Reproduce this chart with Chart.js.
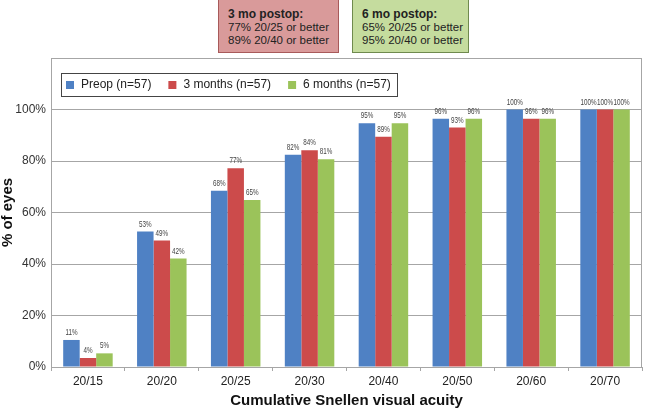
<!DOCTYPE html>
<html>
<head>
<meta charset="utf-8">
<script src="https://cdn.jsdelivr.net/npm/chart.js@4/dist/chart.umd.min.js"></script>
<style>
  html, body { margin: 0; padding: 0; background: #fff; }
  #wrap { position: relative; width: 645px; height: 408px; }
  canvas { position: absolute; left: 0; top: 0; }
  .note { position: absolute; top: -2px; height: 55px; box-sizing: border-box; white-space: nowrap;
          font-family: "Liberation Sans", Arial, sans-serif; font-size: 11.5px; line-height: 13px;
          color: #222; padding: 9px 0 0 9px; }
  .note b { font-weight: bold; font-size: 12px; }
  #n3 { left: 218px; width: 121px; background: #d99a9a; border: 1.5px solid #a85a5a; }
  #n6 { left: 352px; width: 117px; background: #c5dc9e; border: 1.5px solid #6f8a4e; }
</style>
</head>
<body>
<div id="wrap">
  <canvas id="c" width="645" height="408"></canvas>
  <div class="note" id="n3"><b>3 mo postop:</b><br>77% 20/25 or better<br>89% 20/40 or better</div>
  <div class="note" id="n6"><b>6 mo postop:</b><br>65% 20/25 or better<br>95% 20/40 or better</div>
</div>
<script>
const categories = ['20/15', '20/20', '20/25', '20/30', '20/40', '20/50', '20/60', '20/70'];
const seriesNames = ['Preop (n=57)', '3 months (n=57)', '6 months (n=57)'];
const preop   = [10.5, 52.6, 68.4, 82.4, 94.7, 96.4, 100, 100];
const month3  = [3.5, 49.1, 77.2, 84.2, 89.4, 93.0, 96.4, 100];
const month6  = [5.3, 42.1, 64.9, 80.7, 94.7, 96.4, 96.4, 100];
const yTicks  = [0, 20, 40, 60, 80, 100];

const colors = ['#4f81c4', '#cc4b4b', '#9bc35a'];
const FONT = '"Liberation Sans", Arial, sans-serif';

const frame = {
  id: 'frame',
  afterDraw(chart) {
    const {ctx, chartArea: a} = chart;
    ctx.save();
    ctx.strokeStyle = '#a6a6a6';
    ctx.lineWidth = 1;
    ctx.beginPath();
    ctx.moveTo(a.left + 0.5, a.top + 0.5);
    ctx.lineTo(a.right - 0.5, a.top + 0.5);
    ctx.lineTo(a.right - 0.5, a.bottom);
    ctx.stroke();
    ctx.restore();
  }
};

const barLabels = {
  id: 'barLabels',
  afterDatasetsDraw(chart) {
    const {ctx} = chart;
    chart.data.datasets.forEach((ds, i) => {
      chart.getDatasetMeta(i).data.forEach((bar, j) => {
        ctx.save();
        ctx.font = '8.5px ' + FONT;
        ctx.fillStyle = '#444';
        ctx.textAlign = 'center';
        ctx.textBaseline = 'bottom';
        ctx.translate(bar.x, bar.y - 3);
        ctx.scale(0.74, 1);
        ctx.fillText(Math.round(ds.data[j]) + '%', 0, 0);
        ctx.restore();
      });
    });
  }
};

const innerLegend = {
  id: 'innerLegend',
  afterDraw(chart) {
    const {ctx} = chart;
    const x0 = 61, y0 = 73, w = 336, h = 23;
    ctx.save();
    ctx.fillStyle = '#fff';
    ctx.fillRect(x0, y0, w, h);
    ctx.strokeStyle = '#444';
    ctx.lineWidth = 1;
    ctx.strokeRect(x0 + 0.5, y0 + 0.5, w, h);
    ctx.font = '12px ' + FONT;
    ctx.textBaseline = 'middle';
    ctx.textAlign = 'left';
    let x = x0 + 5;
    const cy = y0 + h / 2 + 0.5;
    chart.data.datasets.forEach((ds) => {
      ctx.fillStyle = ds.backgroundColor;
      ctx.fillRect(x, cy - 4, 8, 8);
      ctx.fillStyle = '#222';
      ctx.fillText(ds.label, x + 15, cy);
      x += 15 + ctx.measureText(ds.label).width + 17;
    });
    ctx.restore();
  }
};

new Chart(document.getElementById('c'), {
  type: 'bar',
  data: {
    labels: categories,
    datasets: [
      { label: seriesNames[0], data: preop,  backgroundColor: colors[0] },
      { label: seriesNames[1], data: month3, backgroundColor: colors[1] },
      { label: seriesNames[2], data: month6, backgroundColor: colors[2] }
    ]
  },
  options: {
    responsive: false,
    animation: false,
    devicePixelRatio: 1,
    layout: { padding: { top: 58, right: 3, bottom: 0, left: 0 } },
    datasets: { bar: { categoryPercentage: 0.67, barPercentage: 1.0 } },
    plugins: { legend: { display: false }, tooltip: { enabled: false } },
    scales: {
      x: {
        grid: { drawOnChartArea: false, drawTicks: true, tickLength: 4, color: '#a6a6a6' },
        border: { color: '#a6a6a6' },
        ticks: { color: '#222', font: { family: FONT, size: 12 }, padding: 3 },
        title: { display: true, text: 'Cumulative Snellen visual acuity', color: '#111',
                 font: { family: FONT, size: 15, weight: 'bold', lineHeight: 1.0 },
                 padding: { top: 0, bottom: 0 } },
        afterFit(s) { s.height = 41; }
      },
      y: {
        min: 0, max: 120,
        afterBuildTicks(s) { s.ticks = yTicks.concat([120]).map(v => ({ value: v })); },
        grid: { color: '#a6a6a6', drawTicks: false },
        border: { color: '#a6a6a6' },
        ticks: { color: '#333', font: { family: FONT, size: 12 }, padding: 5,
                 callback: v => (v > 100 ? '' : v + '%') },
        title: { display: true, text: '% of eyes', color: '#111',
                 font: { family: FONT, size: 15, weight: 'bold', lineHeight: 1.0 },
                 padding: { top: 0, bottom: 0 } },
        afterFit(s) { s.width = 51; }
      }
    }
  },
  plugins: [frame, barLabels, innerLegend]
});
</script>
</body>
</html>
